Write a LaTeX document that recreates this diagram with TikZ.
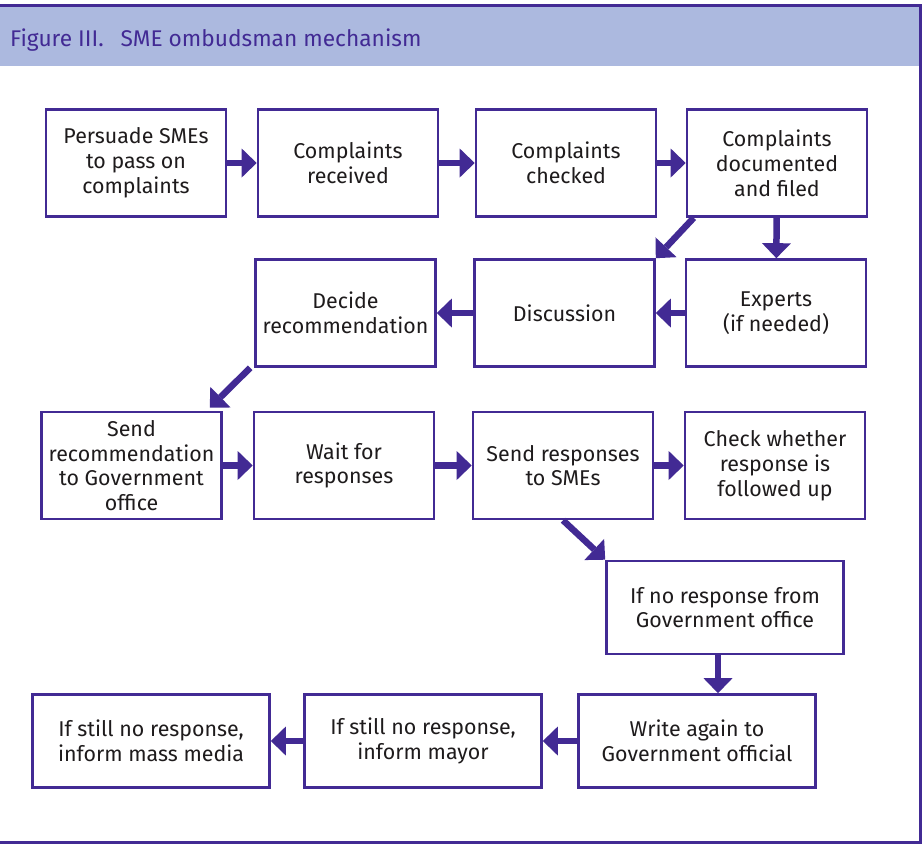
\documentclass[tikz,border=0pt]{standalone}
\usepackage{fontspec}
\setmainfont{Fira Sans}
\usepackage{tikz}
\usetikzlibrary{positioning, arrows.meta}
\definecolor{ombpurple}{RGB}{66,42,148}
\definecolor{headblue}{RGB}{172,185,223}
\definecolor{boxtext}{RGB}{30,27,28}

\begin{document}
\begin{tikzpicture}[x=1pt, y=-1pt,
    stepbox/.style={draw=ombpurple, line width=2.6pt, fill=white, minimum width=180pt, minimum height=107pt, align=center, text=boxtext, font=\fontsize{21.4}{24.8}\selectfont, inner sep=2pt},
    widebox/.style={stepbox, minimum width=237pt, minimum height=93pt},
    flow/.style={draw=ombpurple, line width=6.5pt, arrows={-Triangle[width=29pt, length=15pt, line width=0pt]}}]
      \useasboundingbox (0,0) rectangle (922,844);

      % Header band and frame
      \fill[headblue] (0,7) rectangle (919,66);
      \draw[ombpurple, line width=3pt] (0,5.5) -- (920.5,5.5) -- (920.5,842.5) -- (0,842.5);
      \node[anchor=base west, text=ombpurple, font=\fontsize{22.7}{26}\selectfont, inner sep=0pt] at (10,46) (title) {Figure III.\hspace{17pt}SME ombudsman mechanism};

      % First row
      \node[stepbox] at (136,163) (persuade) {Persuade SMEs\\to pass on\\complaints};
      \node[stepbox] at (348,163) (received) {Complaints\\received};
      \node[stepbox] at (566,163) (checked) {Complaints\\checked};
      \node[stepbox] at (777,163) (filed) {Complaints\\documented\\and filed};

      % Second row
      \node[stepbox] at (345.5,313) (decide) {Decide\\recommendation};
      \node[stepbox] at (564.5,313) (discussion) {Discussion};
      \node[stepbox] at (776,313) (experts) {Experts\\(if needed)};

      % Third row
      \node[stepbox] at (131.5,465.5) (sendrec) {Send\\recommendation\\to Government\\office};
      \node[stepbox] at (344,465.5) (wait) {Wait for\\responses};
      \node[stepbox] at (563,465.5) (sendresp) {Send responses\\to SMEs};
      \node[stepbox] at (775,465.5) (check) {Check whether\\response is\\followed up};

      % Escalation
      \node[widebox] at (725,607.5) (noresp) {If no response from\\Government office};
      \node[widebox] at (697,741) (writeagain) {Write again to\\Government official};
      \node[widebox] at (423,741) (mayor) {If still no response,\\inform mayor};
      \node[widebox] at (151,741) (media) {If still no response,\\inform mass media};

      \draw[flow] (persuade) -- (received);
      \draw[flow] (received) -- (checked);
      \draw[flow] (checked) -- (filed);
      \draw[flow] (filed) -- (experts);
      \draw[flow] ([xshift=8pt]filed.south west) -- (discussion.north east);
      \draw[flow] (experts) -- (discussion);
      \draw[flow] (discussion) -- (decide);
      \draw[flow] ([xshift=-4pt]decide.south west) -- ([xshift=-13pt,yshift=3pt]sendrec.north east);
      \draw[flow] (sendrec) -- (wait);
      \draw[flow] (wait) -- (sendresp);
      \draw[flow] (sendresp) -- (check);
      \draw[flow] (sendresp.south) -- (noresp.north west);
      \draw[flow] ([xshift=-7pt]noresp.south) -- ([xshift=21pt]writeagain.north);
      \draw[flow] (writeagain) -- (mayor);
      \draw[flow] (mayor) -- (media);
    \end{tikzpicture}
\end{document}
